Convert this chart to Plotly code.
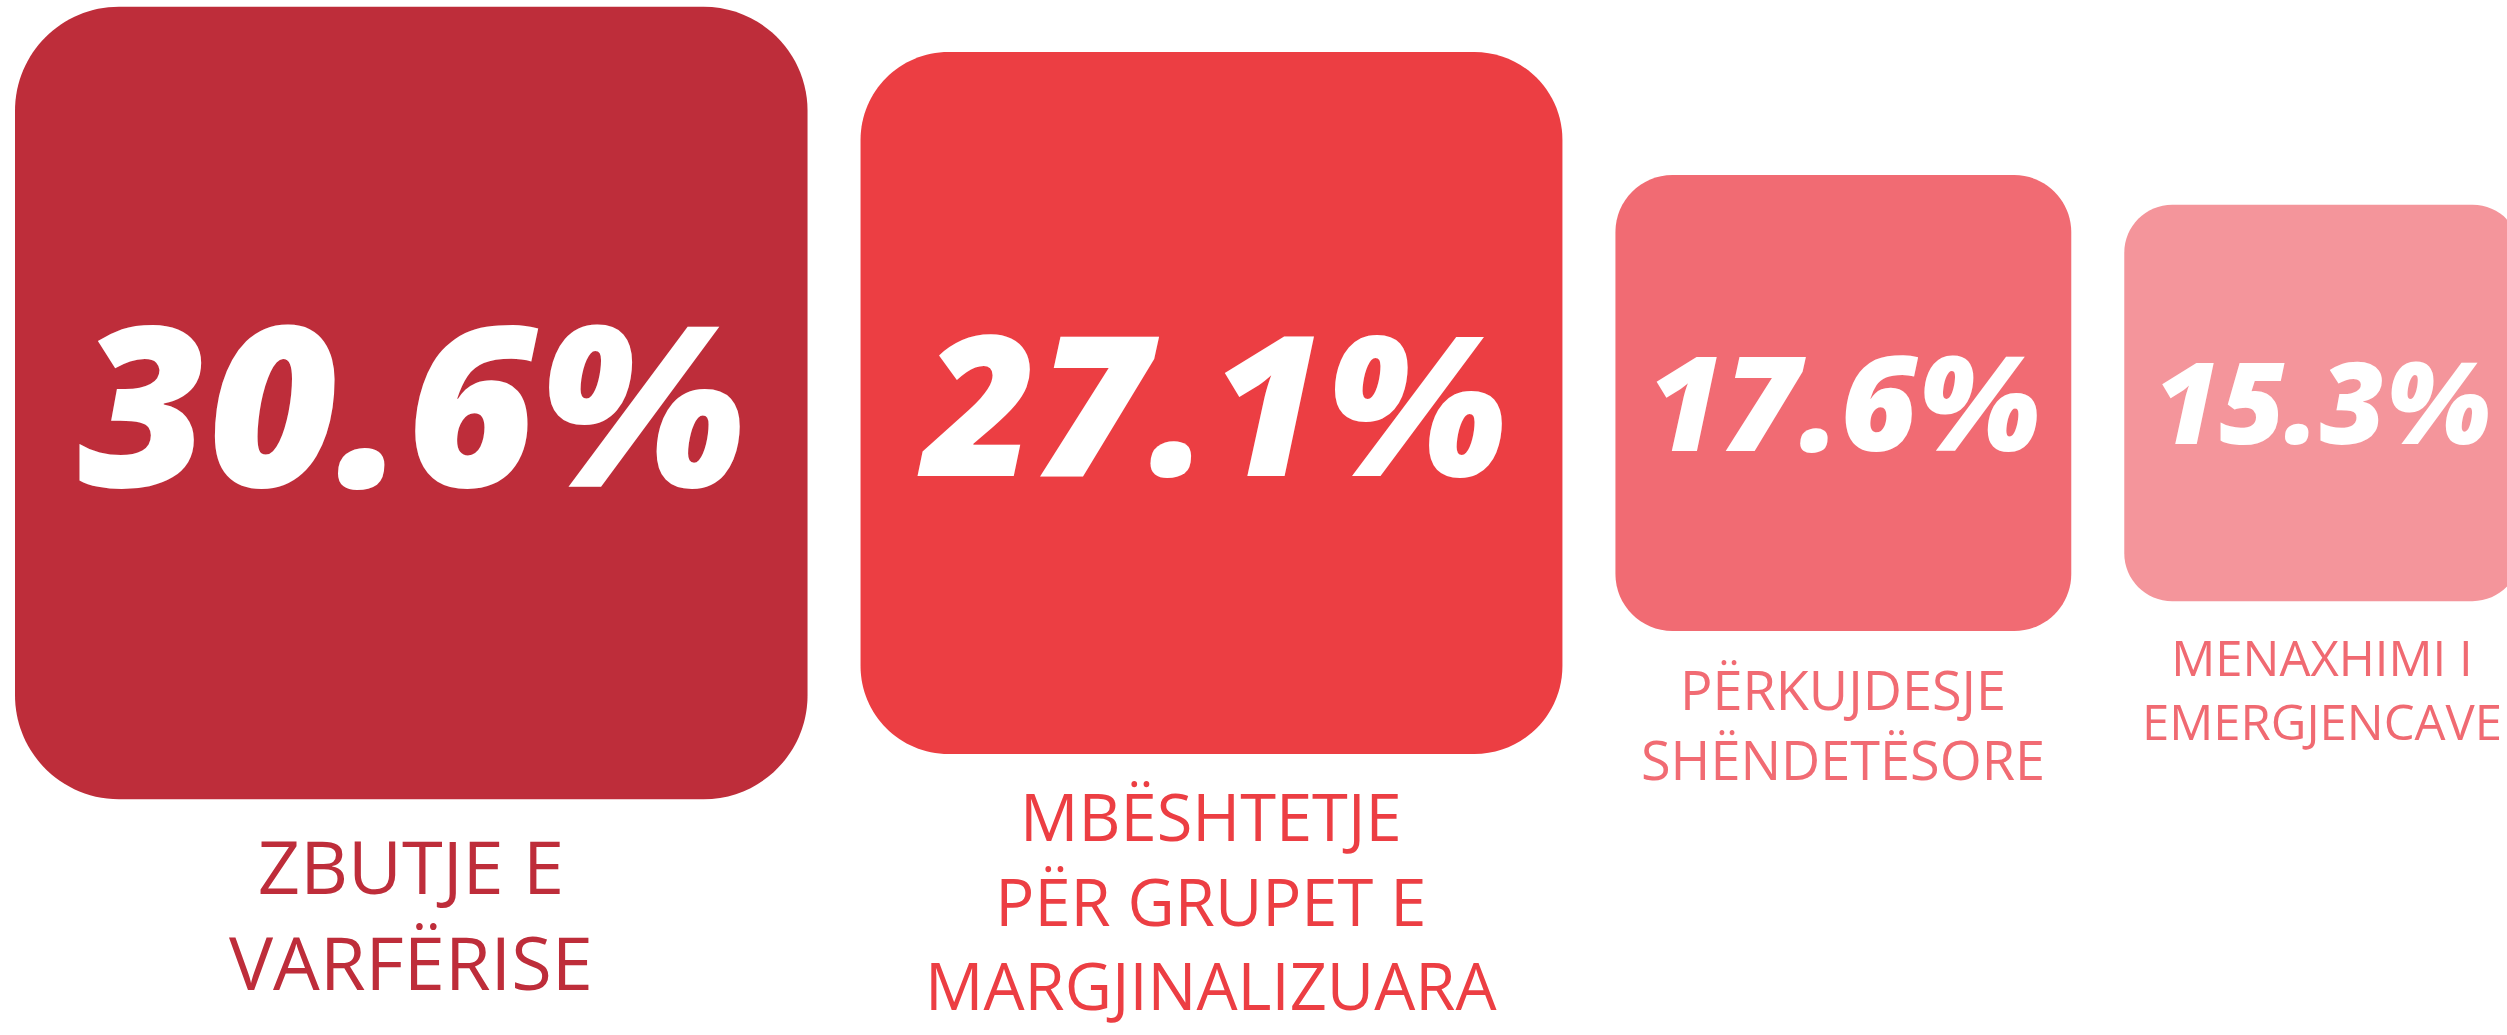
import plotly.graph_objects as go

# ---------------- data ----------------
categories = [
    "ZBUTJE E<br>VARFËRISE",
    "MBËSHTETJE<br>PËR GRUPET E<br>MARGJINALIZUARA",
    "PËRKUJDESJE<br>SHËNDETËSORE",
    "MENAXHIMI I<br>EMERGJENCAVE",
]
values = [30.6, 27.1, 17.6, 15.3]
value_labels = ["30.6%", "27.1%", "17.6%", "15.3%"]

# ---------------- styles ----------------
box_colors = ["#BE2D3A", "#EC3E43", "#F16B73", "#F4959B"]
label_colors = ["#BE2D3A", "#EC3E43", "#F16B73", "#F06A72"]
corner_px = [104, 88, 57, 48]
pct_font_px = [224, 196, 132, 113]
pct_weights = [800, 800, 800, 800]
label_font_px = [74, 65, 54, 49]
label_first_px = [95, 87, 79, 75]   # first baseline below box bottom

W, H = 2507, 1035
PX_PER_UNIT = 25.9          # pixels per percentage point (square side)
LEFT_PAD = 15 / PX_PER_UNIT
GAP = 53 / PX_PER_UNIT
CENTER_Y_PX = 403
LINE_SPACING = 1.3          # plotly multi-line spacing (em)

x_range = [0, W / PX_PER_UNIT]
y_range = [-(H - CENTER_Y_PX) / PX_PER_UNIT, CENTER_Y_PX / PX_PER_UNIT]


def rounded_path(x0, y0, x1, y1, r):
    k = 0.5523
    c = r * (1 - k)
    return (
        f"M {x0 + r},{y0} L {x1 - r},{y0} "
        f"C {x1 - c},{y0} {x1},{y0 + c} {x1},{y0 + r} "
        f"L {x1},{y1 - r} "
        f"C {x1},{y1 - c} {x1 - c},{y1} {x1 - r},{y1} "
        f"L {x0 + r},{y1} "
        f"C {x0 + c},{y1} {x0},{y1 - c} {x0},{y1 - r} "
        f"L {x0},{y0 + r} "
        f"C {x0},{y0 + c} {x0 + c},{y0} {x0 + r},{y0} Z"
    )


fig = go.Figure()
shapes = []
annotations = []
centers = []
x_cursor = LEFT_PAD
for i, v in enumerate(values):
    x0, x1 = x_cursor, x_cursor + v
    y0, y1 = -v / 2, v / 2
    cx = (x0 + x1) / 2
    centers.append(cx)
    r = corner_px[i] / PX_PER_UNIT
    shapes.append(dict(
        type="path", xref="x", yref="y",
        path=rounded_path(x0, y0, x1, y1, r),
        fillcolor=box_colors[i], line=dict(width=0), layer="below",
    ))
    annotations.append(dict(
        x=cx, y=0, xref="x", yref="y", text=value_labels[i],
        showarrow=False, xanchor="center", yanchor="middle", yshift=3,
        font=dict(family="Open Sans", size=pct_font_px[i], color="white",
                  weight=pct_weights[i], style="italic"),
    ))
    n_lines = len(categories[i].split("<br>"))
    fs = label_font_px[i]
    off = label_first_px[i] + (n_lines - 1) * LINE_SPACING * fs / 2 - 0.388 * fs
    annotations.append(dict(
        x=cx, y=y0, xref="x", yref="y", text=categories[i],
        showarrow=False, xanchor="center", yanchor="middle", yshift=-off,
        align="center",
        font=dict(family="Open Sans", size=fs, color=label_colors[i], weight=400),
    ))
    x_cursor = x1 + GAP

# invisible anchor trace so the axes exist with data
fig.add_trace(go.Scatter(x=centers, y=[0] * len(values), mode="markers",
                         marker=dict(opacity=0), hoverinfo="skip", showlegend=False))

fig.update_layout(
    width=W, height=H,
    margin=dict(l=0, r=0, t=0, b=0),
    paper_bgcolor="white", plot_bgcolor="white",
    shapes=shapes, annotations=annotations,
    xaxis=dict(range=x_range, visible=False, fixedrange=True),
    yaxis=dict(range=y_range, visible=False, fixedrange=True),
    showlegend=False,
)

fig.write_html(
    "out.html",
    config={"displayModeBar": False, "staticPlot": True},
    post_script="document.body.style.margin='0';document.body.style.overflow='hidden';",
)
